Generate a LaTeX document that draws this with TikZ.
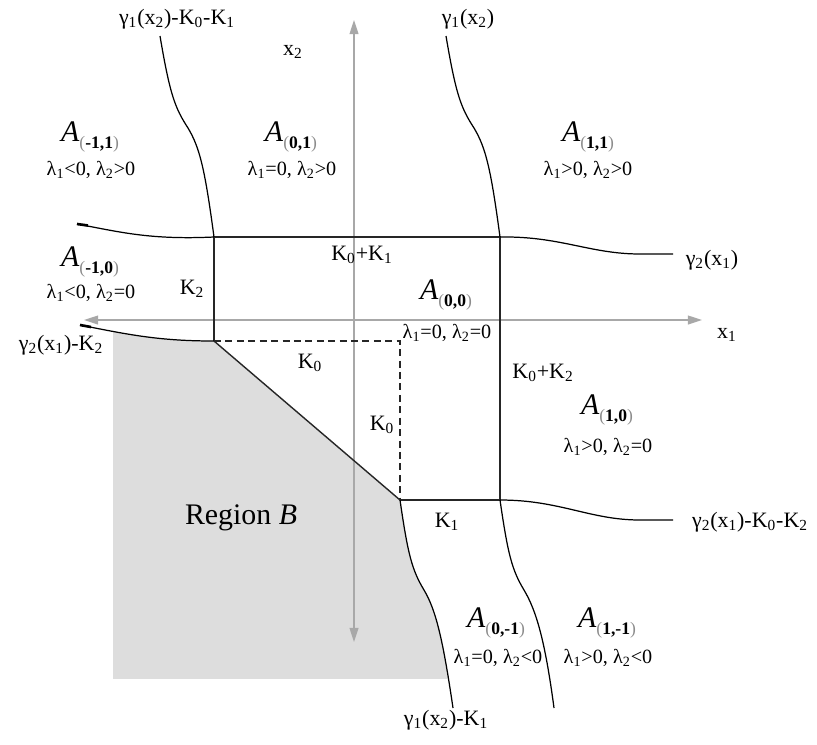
\documentclass[tikz,border=0pt]{standalone}
\usepackage{fontspec}
\setmainfont{Liberation Serif}
\usetikzlibrary{arrows.meta}
\definecolor{RegionGray}{RGB}{221,221,221}
\definecolor{AxisGray}{RGB}{168,168,168}
\definecolor{ParenGray}{RGB}{140,140,140}
\newcommand{\Aset}[1]{\textit{A}\raisebox{-3.5pt}{\fontsize{10}{11}\selectfont\textcolor{ParenGray}{(}\textbf{#1}\textcolor{ParenGray}{)}}}
\newcommand{\sub}[1]{\textsubscript{#1}}

\begin{document}
\begin{tikzpicture}[x=0.02cm,y=-0.02cm,
    curve/.style={black,line width=0.7pt},
    edge/.style={black!85,line width=0.8pt},
    axis/.style={AxisGray,line width=0.8pt,
                 {Triangle[length=8pt,width=5pt]}-{Triangle[length=8pt,width=5pt]}},
    lbl/.style={font=\fontsize{12.5}{15}\selectfont,inner sep=1pt},
    aset/.style={font=\fontsize{17}{20}\selectfont,inner sep=1pt},
    cond/.style={font=\fontsize{11.5}{13}\selectfont,inner sep=1pt}
  ]
  \useasboundingbox (0,0) rectangle (817,744);

  % corners of the box A(0,0)
  \coordinate (nw) at (214,237);
  \coordinate (ne) at (500,237);
  \coordinate (se) at (500,500);
  \coordinate (sm) at (400,500);
  \coordinate (wm) at (214,341);
  \coordinate (dm) at (400,341);

  % free ends of the curves and axes
  \coordinate (c1top) at (160,36);
  \coordinate (c2top) at (446,36);
  \coordinate (c3bot) at (453,708);
  \coordinate (c4bot) at (554,708);
  \coordinate (h1left) at (77,224);
  \coordinate (h2left) at (80,325);
  \coordinate (h3right) at (673,254);
  \coordinate (h4right) at (673,520);
  \coordinate (ytop) at (354,20);
  \coordinate (ybot) at (354,642);
  \coordinate (xleft) at (84,320);
  \coordinate (xright) at (702,320);

  % Region B
  \begin{scope}
    \clip (113,0) rectangle (817,678);
    \fill[RegionGray] (h2left) .. controls (130,335) and (160,341) .. (wm)
      -- (sm) .. controls (408,555) and (412,570) .. (424,590)
      .. controls (436,610) and (443,640) .. (c3bot) -- (80,708) -- cycle;
  \end{scope}

  % axes
  \draw[axis] (ybot) -- (ytop);
  \draw[axis] (xleft) -- (xright);

  % box
  \draw[edge] (wm) -- (nw) -- (ne) -- (se) -- (sm);
  \draw[edge] (wm) -- (sm);
  \draw[edge,dash pattern=on 4pt off 2.5pt] (wm) -- (dm) -- (sm);

  % curves
  \draw[curve] (c1top) .. controls (170,95) and (175,108) .. (188,128)
    .. controls (200,148) and (205,170) .. (nw);
  \draw[curve] (c2top) .. controls (456,95) and (461,108) .. (474,128)
    .. controls (486,148) and (491,170) .. (ne);
  \draw[curve] (sm) .. controls (408,555) and (412,570) .. (424,590)
    .. controls (436,610) and (443,640) .. (c3bot);
  \draw[curve] (se) .. controls (508,555) and (512,570) .. (524,590)
    .. controls (536,610) and (545,640) .. (c4bot);
  \draw[curve] (h1left) .. controls (120,232) and (150,240) .. (nw);
  \draw[curve] (h2left) .. controls (130,335) and (160,341) .. (wm);
  \draw[curve] (ne) .. controls (560,236) and (590,254) .. (640,254) -- (h3right);
  \draw[curve] (se) .. controls (560,500) and (590,520) .. (640,520) -- (h4right);
  \draw[line width=1.5pt] (h1left) -- ++(11,1.5);
  \draw[line width=1.5pt] (h2left) -- ++(11,2);

  % curve and axis labels
  \node[lbl] (g1kk) at (177,19) {γ\sub{1}(x\sub{2})-K\sub{0}-K\sub{1}};
  \node[lbl] (g1)   at (468,19) {γ\sub{1}(x\sub{2})};
  \node[lbl] (g1k)  at (446,720) {γ\sub{1}(x\sub{2})-K\sub{1}};
  \node[lbl] (g2)   at (712,260) {γ\sub{2}(x\sub{1})};
  \node[lbl] (g2k)  at (61,345) {γ\sub{2}(x\sub{1})-K\sub{2}};
  \node[lbl] (g2kk) at (750,522) {γ\sub{2}(x\sub{1})-K\sub{0}-K\sub{2}};
  \node[lbl] (xtwo) at (293,52) {x\sub{2}};
  \node[lbl] (xone) at (727,335) {x\sub{1}};

  % box labels
  \node[lbl] (k01)  at (362,255) {K\sub{0}+K\sub{1}};
  \node[lbl] (k2)   at (192,289) {K\sub{2}};
  \node[lbl] (k0a)  at (310,363) {K\sub{0}};
  \node[lbl] (k0b)  at (382,425) {K\sub{0}};
  \node[lbl] (k02)  at (543,373) {K\sub{0}+K\sub{2}};
  \node[lbl] (k1)   at (447,522) {K\sub{1}};
  \node[font=\fontsize{17}{19}\selectfont] (regb) at (241,518) {Region \textit{B}};

  % regions
  \node[aset] (amp) at (90,137)  {\Aset{-1,1}};
  \node[cond] (cmp) at (91,170)  {λ\sub{1}<0, λ\sub{2}>0};
  \node[aset] (azp) at (291,137) {\Aset{0,1}};
  \node[cond] (czp) at (292,170) {λ\sub{1}=0, λ\sub{2}>0};
  \node[aset] (app) at (588,137) {\Aset{1,1}};
  \node[cond] (cpp) at (588,170) {λ\sub{1}>0, λ\sub{2}>0};
  \node[aset] (amz) at (90,262)  {\Aset{-1,0}};
  \node[cond] (cmz) at (91,293)  {λ\sub{1}<0, λ\sub{2}=0};
  \node[aset] (azz) at (446,295) {\Aset{0,0}};
  \node[cond] (czz) at (447,333) {λ\sub{1}=0, λ\sub{2}=0};
  \node[aset] (apz) at (607,410) {\Aset{1,0}};
  \node[cond] (cpz) at (608,447) {λ\sub{1}>0, λ\sub{2}=0};
  \node[aset] (azm) at (496,623) {\Aset{0,-1}};
  \node[cond] (czm) at (498,658) {λ\sub{1}=0, λ\sub{2}<0};
  \node[aset] (apm) at (607,623) {\Aset{1,-1}};
  \node[cond] (cpm) at (608,658) {λ\sub{1}>0, λ\sub{2}<0};
\end{tikzpicture}
\end{document}
